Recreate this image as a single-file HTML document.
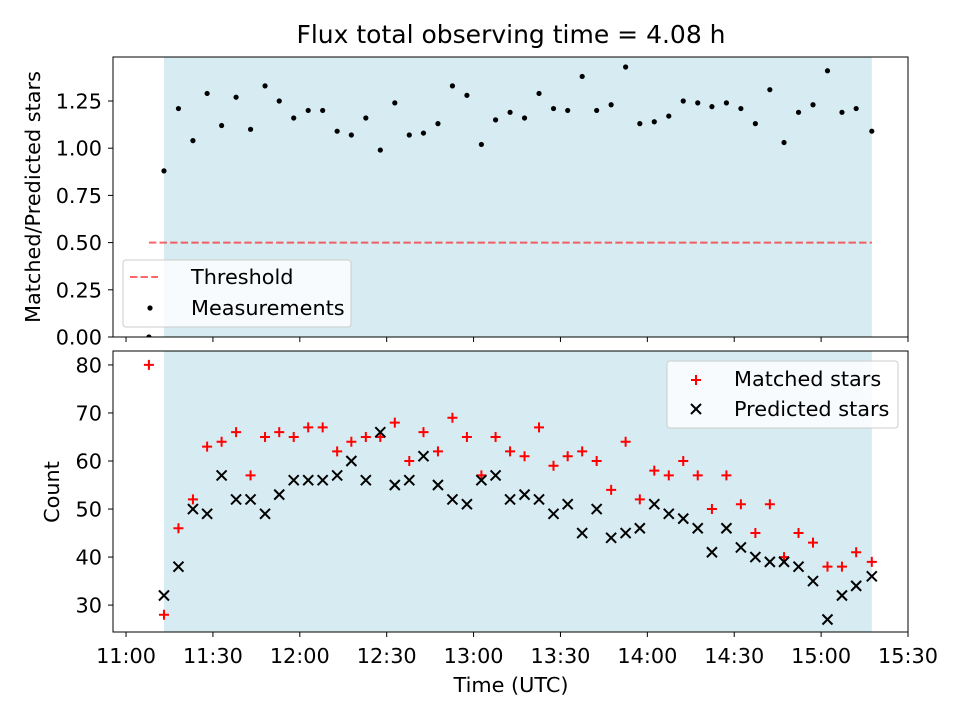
<!DOCTYPE html>
<html><head><meta charset="utf-8"><style>
body{margin:0;background:#fff}
svg{display:block;font-family:"DejaVu Sans","Liberation Sans",sans-serif}
</style></head><body>
<svg id="chart" width="960" height="720" viewBox="0 0 960 720">
<rect width="960" height="720" fill="#fff"/>
</svg>
<script>
const times=[7.9,13.1,18.1,23.1,28.0,33.0,38.0,43.0,48.0,52.9,57.9,62.9,67.9,72.9,77.8,82.8,87.8,92.8,97.8,102.7,107.7,112.7,117.7,122.7,127.6,132.6,137.6,142.6,147.6,152.5,157.5,162.5,167.5,172.5,177.4,182.4,187.4,192.4,197.4,202.3,207.3,212.3,217.3,222.3,227.2,232.2,237.2,242.2,247.2,252.1,257.5];
const ratio=[0,0.88,1.21,1.04,1.29,1.12,1.27,1.10,1.33,1.25,1.16,1.20,1.20,1.09,1.07,1.16,0.99,1.24,1.07,1.08,1.13,1.33,1.28,1.02,1.15,1.19,1.16,1.29,1.21,1.20,1.38,1.20,1.23,1.43,1.13,1.14,1.17,1.25,1.24,1.22,1.24,1.21,1.13,1.31,1.03,1.19,1.23,1.41,1.19,1.21,1.09];
const matched=[80,28,46,52,63,64,66,57,65,66,65,67,67,62,64,65,65,68,60,66,62,69,65,57,65,62,61,67,59,61,62,60,54,64,52,58,57,60,57,50,57,51,45,51,40,45,43,38,38,41,39];
const predicted=[null,32,38,50,49,57,52,52,49,53,56,56,56,57,60,56,66,55,56,61,55,52,51,56,57,52,53,52,49,51,45,50,44,45,46,51,49,48,46,41,46,42,40,39,39,38,35,27,32,34,36];
const threshold=0.5;
const shadeStart=13.1, shadeEnd=257.5;
const xTickMins=[0,30,60,90,120,150,180,210,240,270];
const xTickLabels=["11:00","11:30","12:00","12:30","13:00","13:30","14:00","14:30","15:00","15:30"];
const topTicks=[0,0.25,0.5,0.75,1.0,1.25];
const botTicks=[30,40,50,60,70,80];

const NS="http://www.w3.org/2000/svg";
const svg=document.getElementById('chart');
function el(tag,attrs,parent,text){const e=document.createElementNS(NS,tag);for(const k in attrs)e.setAttribute(k,attrs[k]);if(text!==undefined)e.textContent=text;(parent||svg).appendChild(e);return e;}
const L=113,R=908;
const xs=m=>L+(m+4.5)/(274.5)*(R-L);
const T={top:57,bot:337,min:0,max:1.483};
const B={top:351,bot:632,min:24.4,max:82.9};
const yT=v=>T.bot-(v-T.min)/(T.max-T.min)*(T.bot-T.top);
const yB=v=>B.bot-(v-B.min)/(B.max-B.min)*(B.bot-B.top);
const FS=20.8;

const defs=el('defs',{});
const c1=el('clipPath',{id:'ct'},defs);el('rect',{x:L,y:T.top,width:R-L,height:T.bot-T.top},c1);
const c2=el('clipPath',{id:'cb'},defs);el('rect',{x:L,y:B.top,width:R-L,height:B.bot-B.top},c2);

function panel(P,yf,ticks,fmt,name,clip){
  const g=el('g',{'clip-path':'url(#'+clip+')'});
  
  const sh=el('rect',{x:xs(shadeStart),y:P.top,width:xs(shadeEnd)-xs(shadeStart),height:P.bot-P.top,fill:'#add8e6','fill-opacity':0.5},g);
  
  ticks.forEach(t=>{const y=yf(t);el('line',{x1:L-5,x2:L,y1:y,y2:y,stroke:'#000','stroke-width':1});
    const tx=el('text',{x:L-11,y:y+7.5,'text-anchor':'end','font-size':FS},svg,fmt(t));
    });
  xTickMins.forEach(m=>{el('line',{x1:xs(m),x2:xs(m),y1:P.bot,y2:P.bot+5,stroke:'#000'});});
  return g;
}
const gT=panel(T,yT,topTicks,v=>v.toFixed(2),'top',"ct");
const gB=panel(B,yB,botTicks,v=>String(v),'bottom',"cb");

const th=el('line',{x1:xs(times[0]),x2:xs(shadeEnd),y1:yT(threshold),y2:yT(threshold),stroke:'#ff0000','stroke-opacity':0.6,'stroke-width':2,'stroke-dasharray':'7.4,3.2'},gT);

times.forEach((t,i)=>{const c=el('circle',{cx:xs(t),cy:yT(ratio[i]),r:2.6,fill:'#000'},gT);
  });
times.forEach((t,i)=>{const x=xs(t),y=yB(matched[i]);
  const p=el('path',{d:`M${x-5},${y}H${x+5}M${x},${y-5}V${y+5}`,stroke:'#ff0000','stroke-width':2},gB);
  
  if(predicted[i]!==null){const yp=yB(predicted[i]);
  const q=el('path',{d:`M${x-5},${yp-5}L${x+5},${yp+5}M${x-5},${yp+5}L${x+5},${yp-5}`,stroke:'#000','stroke-width':2},gB);
  }});

[T,B].forEach(P=>el('rect',{x:L,y:P.top,width:R-L,height:P.bot-P.top,fill:'none',stroke:'#000','stroke-width':1}));
xTickMins.forEach((m,i)=>{const tx=el('text',{x:xs(m),y:663,'text-anchor':'middle','font-size':FS},svg,xTickLabels[i]);
  });

let t=el('text',{x:511,y:43,'text-anchor':'middle','font-size':25},svg,'Flux total observing time = 4.08 h');

t=el('text',{x:511,y:692,'text-anchor':'middle','font-size':FS},svg,'Time (UTC)');

t=el('text',{x:0,y:0,'text-anchor':'middle','font-size':FS,transform:'translate(40,197) rotate(-90)'},svg,'Matched/Predicted stars');

t=el('text',{x:0,y:0,'text-anchor':'middle','font-size':FS,transform:'translate(59,492) rotate(-90)'},svg,'Count');


let lg=el('g',{});
el('rect',{x:123,y:260,width:228,height:67,rx:3,fill:'#fff','fill-opacity':0.8,stroke:'#ccc'},lg);
el('line',{x1:130,x2:158,y1:277,y2:277,stroke:'#ff0000','stroke-opacity':0.6,'stroke-width':2,'stroke-dasharray':'7.4,3.2'},lg);
el('text',{x:191,y:284,'font-size':FS},lg,'Threshold');
el('circle',{cx:150,cy:308,r:2.6,fill:'#000'},lg);
el('text',{x:191,y:315,'font-size':FS},lg,'Measurements');
lg=el('g',{});
el('rect',{x:667,y:361,width:231,height:67,rx:3,fill:'#fff','fill-opacity':0.8,stroke:'#ccc'},lg);
el('path',{d:'M691,380H701M696,375V385',stroke:'#ff0000','stroke-width':2},lg);
el('text',{x:734,y:386,'font-size':FS},lg,'Matched stars');
el('path',{d:'M691,404L701,414M691,414L701,404',stroke:'#000','stroke-width':2},lg);
el('text',{x:734,y:416,'font-size':FS},lg,'Predicted stars');
</script>
</body></html>
